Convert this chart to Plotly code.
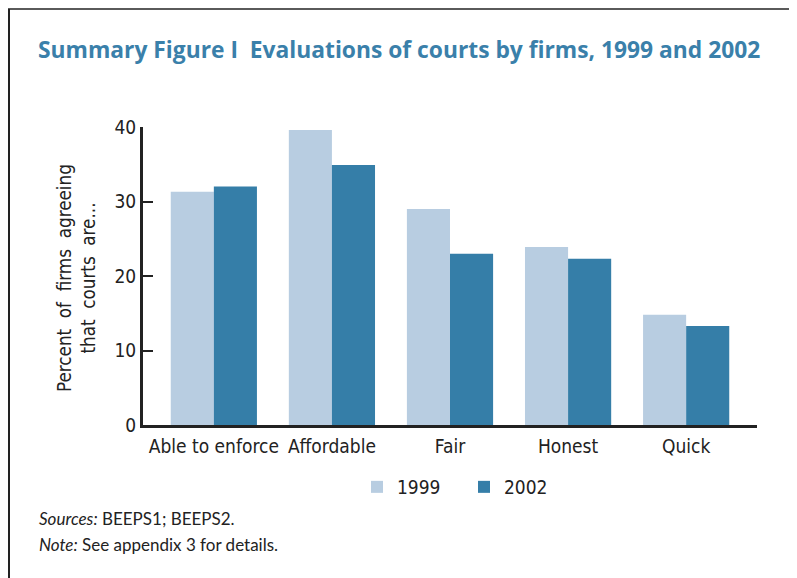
import plotly.graph_objects as go

categories = ["Able to enforce", "Affordable", "Fair", "Honest", "Quick"]
values_1999 = [31.3, 39.6, 29.0, 23.9, 14.8]
values_2002 = [32.0, 34.9, 23.0, 22.3, 13.3]
series_names = ["1999", "2002"]
y_ticks = [0, 10, 20, 30, 40]

# page has an 8px body margin; work in screen coordinates and convert
OFF = 8
W, H = 797 - OFF, 578 - OFF
L, R, T, B = 143 - OFF, 40, 127 - OFF, 153
pw, ph = W - L - R, H - T - B

def px(x):
    return (x - OFF - L) / pw

def py(y):
    return (H - B - (y - OFF)) / ph

cond = "DejaVu Sans Condensed, Liberation Sans Narrow, sans-serif"
human = "Lato, Open Sans, sans-serif"

fig = go.Figure()
fig.add_bar(x=categories, y=values_1999, name=series_names[0], marker_color="#b8cde1",
            marker_line_width=0)
fig.add_bar(x=categories, y=values_2002, name=series_names[1], marker_color="#357ea8",
            marker_line_width=0)

fig.update_layout(
    width=W, height=H,
    margin=dict(l=L, r=R, t=T, b=B, pad=0),
    paper_bgcolor="white", plot_bgcolor="white",
    barmode="group", bargap=0.27, bargroupgap=0,
    showlegend=True,
    legend=dict(orientation="h", x=px(464), y=py(487), xanchor="center", yanchor="middle",
                font=dict(family=cond, size=19, color="#222"), traceorder="normal",
                itemwidth=30, entrywidth=62, itemsizing="constant"),
    font=dict(family=cond, color="#222"),
)
fig.update_xaxes(range=[-0.6, 4.6], showline=True, linecolor="#222", linewidth=3,
                 ticks="", tickangle=0, ticklabelstandoff=2,
                 tickfont=dict(family=cond, size=19, color="#222"),
                 showgrid=False, zeroline=False)
fig.update_yaxes(range=[0, 40], tickvals=y_ticks, showline=True, linecolor="#222", linewidth=3,
                 ticks="inside", ticklen=10, tickwidth=1.5, tickcolor="#222",
                 tickfont=dict(family=cond, size=19, color="#222"),
                 showgrid=False, zeroline=False)

anns = [
    dict(text="<b>Summary Figure I  Evaluations of courts by firms, 1999 and 2002</b>",
         x=px(36), y=py(49), xanchor="left", yanchor="middle",
         font=dict(family="Open Sans, sans-serif", size=22.8, color="#3a80aa")),
    dict(text="Percent  of  firms  agreeing<br>that  courts  are...",
         x=px(76), y=py(278), xanchor="center", yanchor="middle", textangle=-90,
         font=dict(family=cond, size=18.7, color="#222")),
    dict(text="<i>Sources:</i> BEEPS1; BEEPS2.",
         x=px(37), y=py(518), xanchor="left", yanchor="middle",
         font=dict(family=human, size=17, color="#222")),
    dict(text="<i>Note:</i> See appendix 3 for details.",
         x=px(37), y=py(544), xanchor="left", yanchor="middle",
         font=dict(family=human, size=17, color="#222")),
]
for a in anns:
    a.update(xref="paper", yref="paper", showarrow=False)
fig.update_layout(annotations=anns)

fig.add_shape(type="line", xref="paper", yref="paper", x0=px(8), x1=px(797), y0=py(9), y1=py(9),
              line=dict(color="#5a5a5a", width=2))
fig.add_shape(type="line", xref="paper", yref="paper", x0=px(9), x1=px(9), y0=py(9), y1=py(578),
              line=dict(color="#222", width=2))

fig.write_html("out.html")
